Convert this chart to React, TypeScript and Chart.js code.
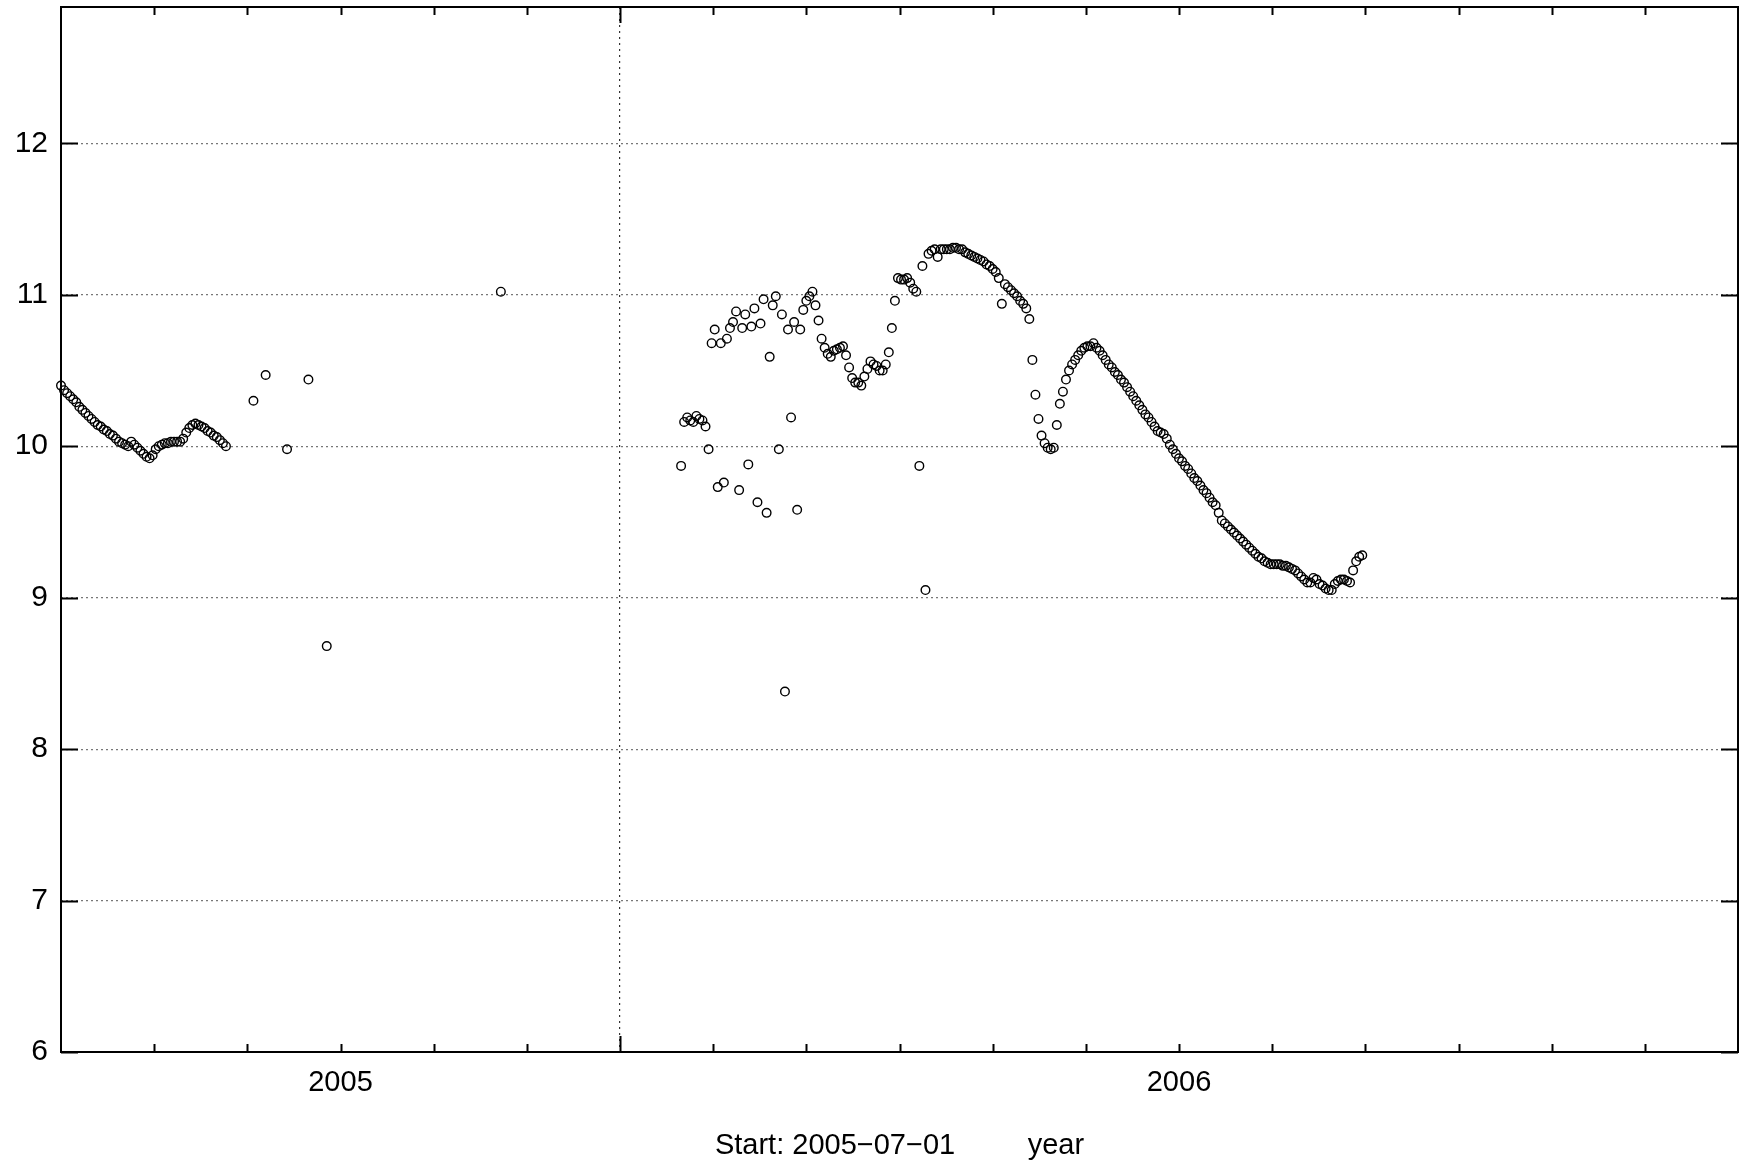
import { useEffect, useRef } from "react";
import { Chart, registerables } from "chart.js";

Chart.register(...registerables);

// ---- axis definitions ----
const START_LABEL = "Start: 2005\u221207\u221201";
const UNIT_LABEL = "year";
const AXIS_DAYS = 549; // 2005-07-01 .. 2007-01-01
const MONTH_DAYS = 30.5;
const MONTH_COUNT = 18;
const YEAR_LABELS: Record<number, string> = { 3: "2005", 12: "2006" };
const YEAR_BOUNDARY_MONTH = 6;
const Y_TICKS = [6, 7, 8, 9, 10, 11, 12];
const Y_MIN = 6;
const Y_MAX = 12.9;

// ---- data (day offsets from 2005-07-01, daily observations) ----
const run1StartDay = 0;
const run1Values = [
  10.40, 10.37, 10.35, 10.33, 10.31, 10.29, 10.26, 10.24, 10.22, 10.20,
  10.18, 10.16, 10.14, 10.13, 10.11, 10.10, 10.08, 10.07, 10.05, 10.03,
  10.02, 10.01, 10.00, 10.03, 10.01, 9.99, 9.97, 9.95, 9.93, 9.92,
  9.94, 9.98, 10.00, 10.01, 10.02, 10.02, 10.03, 10.03, 10.03, 10.03,
  10.05, 10.09, 10.12, 10.14, 10.15, 10.14, 10.13, 10.12, 10.10, 10.09,
  10.07, 10.06, 10.04, 10.02, 10.00,
];

const spotDays = [63, 67, 74, 81, 87, 144];
const spotValues = [10.30, 10.47, 9.98, 10.44, 8.68, 11.02];

const run2StartDay = 203;
const run2Values = [
  9.87, 10.16, 10.19, 10.17, 10.16, 10.20, 10.18, 10.17, 10.13, 9.98,
  10.68, 10.77, 9.73, 10.68, 9.76, 10.71, 10.78, 10.82, 10.89, 9.71,
  10.78, 10.87, 9.88, 10.79, 10.91, 9.63, 10.81, 10.97, 9.56, 10.59,
  10.93, 10.99, 9.98, 10.87, 8.38, 10.77, 10.19, 10.82, 9.58, 10.77,
  10.90, 10.96, 10.99, 11.02, 10.93, 10.83, 10.71, 10.65, 10.61, 10.59,
  10.63, 10.64, 10.65, 10.66, 10.60, 10.52, 10.45, 10.42, 10.42, 10.40,
  10.46, 10.51, 10.56, 10.54, 10.53, 10.50, 10.50, 10.54, 10.62, 10.78,
  10.96, 11.11, 11.10, 11.10, 11.11, 11.08, 11.04, 11.02, 9.87, 11.19,
  9.05, 11.27, 11.29,
  11.30, 11.25, 11.30, 11.30, 11.30, 11.30, 11.31, 11.31, 11.30, 11.30,
  11.28, 11.27, 11.26, 11.25, 11.24, 11.23, 11.22, 11.20, 11.19, 11.17,
  11.15, 11.11, 10.94, 11.07, 11.05, 11.03, 11.01, 10.99, 10.96, 10.94,
  10.91, 10.84, 10.57, 10.34, 10.18, 10.07, 10.02, 9.99, 9.98, 9.99,
  10.14, 10.28, 10.36, 10.44, 10.50, 10.54, 10.57, 10.60, 10.63, 10.65,
  10.66, 10.66, 10.68,
  10.65, 10.63, 10.60, 10.57, 10.54, 10.52, 10.49, 10.47, 10.44, 10.42,
  10.39, 10.36, 10.33, 10.30, 10.27, 10.24, 10.21, 10.19, 10.16, 10.13,
  10.10, 10.09, 10.08, 10.05, 10.01, 9.98, 9.95, 9.92, 9.90, 9.87,
  9.85, 9.82, 9.79, 9.77, 9.74, 9.71, 9.69, 9.66, 9.63, 9.61,
  9.56, 9.51, 9.49, 9.47, 9.45, 9.43, 9.41, 9.39, 9.37, 9.35,
  9.33, 9.31, 9.29, 9.27, 9.26, 9.24, 9.23, 9.22, 9.22, 9.22,
  9.22, 9.21, 9.21, 9.20, 9.19, 9.18, 9.16,
  9.14, 9.12, 9.10, 9.10, 9.13, 9.12, 9.09, 9.08, 9.06, 9.05,
  9.05, 9.09, 9.11, 9.12, 9.12, 9.11, 9.10, 9.18, 9.24, 9.27, 9.28,
];

function buildPoints() {
  const pts: { x: number; y: number }[] = [];
  run1Values.forEach((v, i) => pts.push({ x: run1StartDay + i, y: v }));
  spotDays.forEach((d, i) => pts.push({ x: d, y: spotValues[i] }));
  run2Values.forEach((v, i) => pts.push({ x: run2StartDay + i, y: v }));
  return pts;
}

const FONT = "'Liberation Sans', Arial, Helvetica, sans-serif";

const framePlugin = {
  id: "gnuFrame",
  afterDraw(chart: any) {
    const { ctx, chartArea: a, scales } = chart;
    const xs = scales.x;
    const ys = scales.y;
    ctx.save();
    ctx.strokeStyle = "#000";
    ctx.lineWidth = 2;
    ctx.beginPath();
    for (const v of Y_TICKS) {
      const py = Math.round(ys.getPixelForValue(v)) + 0.5;
      ctx.moveTo(a.left, py);
      ctx.lineTo(a.left + 17, py);
      ctx.moveTo(a.right, py);
      ctx.lineTo(a.right - 17, py);
    }
    for (let m = 1; m < MONTH_COUNT; m++) {
      const px = Math.round(xs.getPixelForValue(m * MONTH_DAYS)) + 0.5;
      const len = m === YEAR_BOUNDARY_MONTH ? 16 : 8;
      ctx.moveTo(px, a.bottom);
      ctx.lineTo(px, a.bottom - len);
      ctx.moveTo(px, a.top);
      ctx.lineTo(px, a.top + len);
    }
    ctx.stroke();
    ctx.strokeRect(a.left, a.top, a.right - a.left, a.bottom - a.top);
    ctx.restore();
  },
};

export default function App() {
  const ref = useRef<HTMLCanvasElement | null>(null);

  useEffect(() => {
    if (!ref.current) return;
    const chart = new Chart(ref.current, {
      type: "scatter",
      data: {
        datasets: [
          {
            data: buildPoints(),
            showLine: false,
            pointStyle: "circle",
            pointRadius: 4.3,
            pointHoverRadius: 4.3,
            pointBorderWidth: 1.4,
            borderColor: "#000",
            backgroundColor: "rgba(0,0,0,0)",
            clip: false as any,
          },
        ],
      },
      options: {
        responsive: false,
        animation: false,
        devicePixelRatio: 1,
        layout: { padding: { left: 0, right: 15, top: 7, bottom: 0 } },
        plugins: {
          legend: { display: false },
          tooltip: { enabled: false },
        },
        scales: {
          x: {
            type: "linear",
            min: 0,
            max: AXIS_DAYS,
            afterBuildTicks: (s: any) => {
              s.ticks = Array.from({ length: MONTH_COUNT + 1 }, (_, i) => ({ value: i * MONTH_DAYS }));
            },
            afterFit: (s: any) => {
              s.height = 116;
              s.paddingLeft = 0;
              s.paddingRight = 0;
            },
            grid: {
              drawTicks: false,
              lineWidth: 1.2,
              color: (c: any) =>
                c.index === YEAR_BOUNDARY_MONTH ? "#333" : "rgba(0,0,0,0)",
            },
            border: { display: false, dash: [2, 4] },
            ticks: {
              autoSkip: false,
              maxRotation: 0,
              minRotation: 0,
              padding: 14,
              color: "#000",
              font: { family: FONT, size: 29 },
              callback: (_v: any, i: number) => YEAR_LABELS[i] ?? "",
            },
            title: {
              display: true,
              text: START_LABEL + "\u00A0".repeat(9) + UNIT_LABEL,
              color: "#000",
              font: { family: FONT, size: 29 },
              padding: { top: 0, bottom: 5 },
            },
          },
          y: {
            type: "linear",
            min: Y_MIN,
            max: Y_MAX,
            afterBuildTicks: (s: any) => {
              s.ticks = Y_TICKS.map((v) => ({ value: v }));
            },
            afterFit: (s: any) => {
              s.width = 61;
              s.paddingTop = 0;
              s.paddingBottom = 0;
            },
            grid: {
              drawTicks: false,
              lineWidth: 1.2,
              color: (c: any) =>
                c.tick && c.tick.value === Y_MIN ? "rgba(0,0,0,0)" : "#777",
            },
            border: { display: false, dash: [2, 3] },
            ticks: {
              padding: 13,
              color: "#000",
              font: { family: FONT, size: 30 },
              callback: (v: any) => String(v),
            },
          },
        },
      },
      plugins: [framePlugin],
    });
    return () => chart.destroy();
  }, []);

  return (
    <div style={{ position: "fixed", left: 0, top: 0, width: 1753, height: 1168, background: "#fff" }}>
      <canvas ref={ref} width={1753} height={1168} style={{ display: "block" }} />
    </div>
  );
}
